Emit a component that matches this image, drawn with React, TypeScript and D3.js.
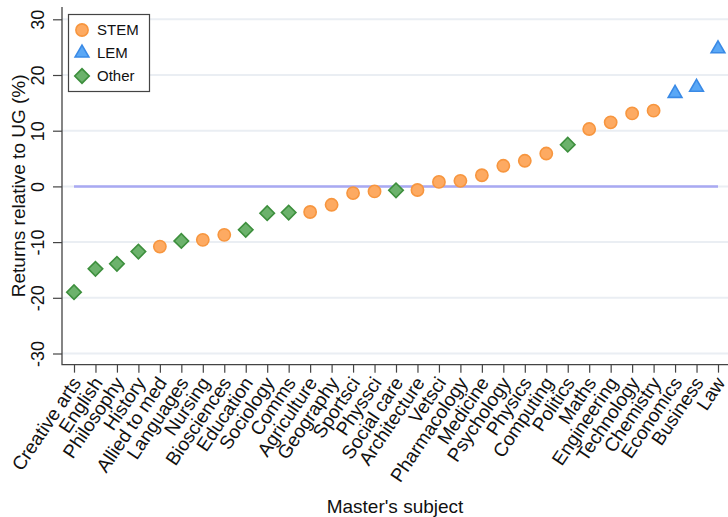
import { useEffect, useRef } from 'react';
import * as d3 from 'd3';

const subjects = [
  'Creative arts', 'English', 'Philosophy', 'History', 'Allied to med', 'Languages', 'Nursing',
  'Biosciences', 'Education', 'Sociology', 'Comms', 'Agriculture', 'Geography', 'Sportsci',
  'Physsci', 'Social care', 'Architecture', 'Vetsci', 'Pharmacology', 'Medicine', 'Psychology',
  'Physics', 'Computing', 'Politics', 'Maths', 'Engineering', 'Technology', 'Chemistry',
  'Economics', 'Business', 'Law',
];

const groups = [
  'Other', 'Other', 'Other', 'Other', 'STEM', 'Other', 'STEM',
  'STEM', 'Other', 'Other', 'Other', 'STEM', 'STEM', 'STEM',
  'STEM', 'Other', 'STEM', 'STEM', 'STEM', 'STEM', 'STEM',
  'STEM', 'STEM', 'Other', 'STEM', 'STEM', 'STEM', 'STEM',
  'LEM', 'LEM', 'LEM',
];

const returns = [
  -19.0, -14.8, -13.9, -11.7, -10.8, -9.8, -9.6,
  -8.7, -7.8, -4.8, -4.7, -4.6, -3.3, -1.2,
  -0.9, -0.7, -0.65, 0.8, 1.0, 2.0, 3.7,
  4.6, 5.9, 7.5, 10.3, 11.5, 13.1, 13.6,
  16.7, 17.8, 24.7,
];

const yTicks = [-30, -20, -10, 0, 10, 20, 30];
const legendGroups = ['STEM', 'LEM', 'Other'];

const FONT = '"Liberation Sans", Arial, sans-serif';

const style: Record<string, { fill: string; stroke: string }> = {
  STEM: { fill: '#fdaa62', stroke: '#f7963f' },
  LEM: { fill: '#5aa8f6', stroke: '#3a8ae6' },
  Other: { fill: '#6cb26c', stroke: '#3d8f3d' },
};

const symbolPath = (g: string) => {
  if (g === 'STEM') return d3.symbol(d3.symbolCircle, 118)();
  if (g === 'LEM') return d3.symbol(d3.symbolTriangle, 82)();
  return d3.symbol(d3.symbolSquare, 105)();
};

const App = () => {
  const svgRef = useRef<SVGSVGElement>(null);

  useEffect(() => {
    if (!svgRef.current) return;
    const svg = d3.select(svgRef.current);
    svg.selectAll('*').remove();

    const width = 728;
    const height = 517;

    const x = d3.scalePoint<string>().domain(subjects).range([74, 718]);
    const y = d3.scaleLinear().domain([-30, 30]).range([353.5, 19.3]);

    const left = 62;
    const right = width;
    const top = y(32.2);
    const bottom = y(-32);

    svg.append('rect').attr('width', width).attr('height', height).attr('fill', '#fff');

    // gridlines
    svg.append('g')
      .selectAll('line')
      .data(yTicks)
      .enter()
      .append('line')
      .attr('x1', left)
      .attr('x2', right)
      .attr('y1', d => y(d))
      .attr('y2', d => y(d))
      .attr('stroke', '#eaeef3')
      .attr('stroke-width', 2);

    // zero reference line
    svg.append('line')
      .attr('x1', x(subjects[0]) || 0)
      .attr('x2', x(subjects[subjects.length - 1]) || 0)
      .attr('y1', y(0))
      .attr('y2', y(0))
      .attr('stroke', '#a9a9f2')
      .attr('stroke-width', 2.5);

    // y axis
    const yAxis = svg.append('g')
      .attr('transform', `translate(${left},0)`)
      .call(d3.axisLeft(y).tickValues(yTicks).tickSize(9).tickSizeOuter(0).tickFormat(d => `${d}`));
    yAxis.select('.domain').remove();
    yAxis.selectAll('line').attr('stroke', '#444').attr('stroke-width', 1.2);
    yAxis.selectAll('text')
      .attr('x', null)
      .attr('dy', null)
      .attr('transform', 'translate(-18,0) rotate(-90)')
      .attr('text-anchor', 'middle')
      .attr('font-family', FONT)
      .attr('font-size', 18)
      .attr('fill', '#111');

    // x axis
    const xAxis = svg.append('g')
      .attr('transform', `translate(0,${bottom})`)
      .call(d3.axisBottom(x).tickSize(8).tickSizeOuter(0));
    xAxis.select('.domain').remove();
    xAxis.selectAll('line').attr('stroke', '#444').attr('stroke-width', 1.2);
    xAxis.selectAll('text')
      .attr('y', null)
      .attr('dy', null)
      .attr('transform', 'translate(2,14.5) rotate(-56)')
      .attr('text-anchor', 'end')
      .attr('dominant-baseline', 'central')
      .attr('font-family', FONT)
      .attr('font-size', 19)
      .attr('fill', '#111');

    // axis lines
    svg.append('path')
      .attr('d', `M${left},${top}V${bottom}H${right}`)
      .attr('fill', 'none')
      .attr('stroke', '#444')
      .attr('stroke-width', 1.3);

    // points
    svg.append('g')
      .selectAll('path')
      .data(subjects)
      .enter()
      .append('path')
      .attr('d', (_, i) => symbolPath(groups[i]))
      .attr('transform', (d, i) => `translate(${x(d)},${y(returns[i])})${groups[i] === 'Other' ? ' rotate(45)' : ''}`)
      .attr('fill', (_, i) => style[groups[i]].fill)
      .attr('stroke', (_, i) => style[groups[i]].stroke)
      .attr('stroke-width', 1.6);

    // axis titles
    svg.append('text')
      .attr('transform', `translate(25,${(top + bottom) / 2}) rotate(-90)`)
      .attr('text-anchor', 'middle')
      .attr('font-family', FONT)
      .attr('font-size', 19)
      .attr('fill', '#111')
      .text('Returns relative to UG (%)');

    svg.append('text')
      .attr('x', (left + right) / 2)
      .attr('y', 513)
      .attr('text-anchor', 'middle')
      .attr('font-family', FONT)
      .attr('font-size', 19)
      .attr('fill', '#111')
      .text("Master's subject");

    // legend
    const legend = svg.append('g');
    legend.append('rect')
      .attr('x', 68.5)
      .attr('y', 14.5)
      .attr('width', 81)
      .attr('height', 77)
      .attr('fill', '#fff')
      .attr('stroke', '#444')
      .attr('stroke-width', 1.2);

    const rowY = d3.scalePoint<string>().domain(legendGroups).range([30, 76]);
    legendGroups.forEach(g => {
      legend.append('path')
        .attr('d', symbolPath(g))
        .attr('transform', `translate(82,${rowY(g)})${g === 'Other' ? ' rotate(45)' : ''}`)
        .attr('fill', style[g].fill)
        .attr('stroke', style[g].stroke)
        .attr('stroke-width', 1.6);
      legend.append('text')
        .attr('x', 97)
        .attr('y', rowY(g) || 0)
        .attr('dy', '0.35em')
        .attr('font-family', FONT)
        .attr('font-size', 15)
        .attr('fill', '#111')
        .text(g);
    });
  }, []);

  return (
    <svg
      ref={svgRef}
      width={728}
      height={517}
      style={{ position: 'absolute', left: 0, top: 0, display: 'block' }}
    />
  );
};

export default App;
